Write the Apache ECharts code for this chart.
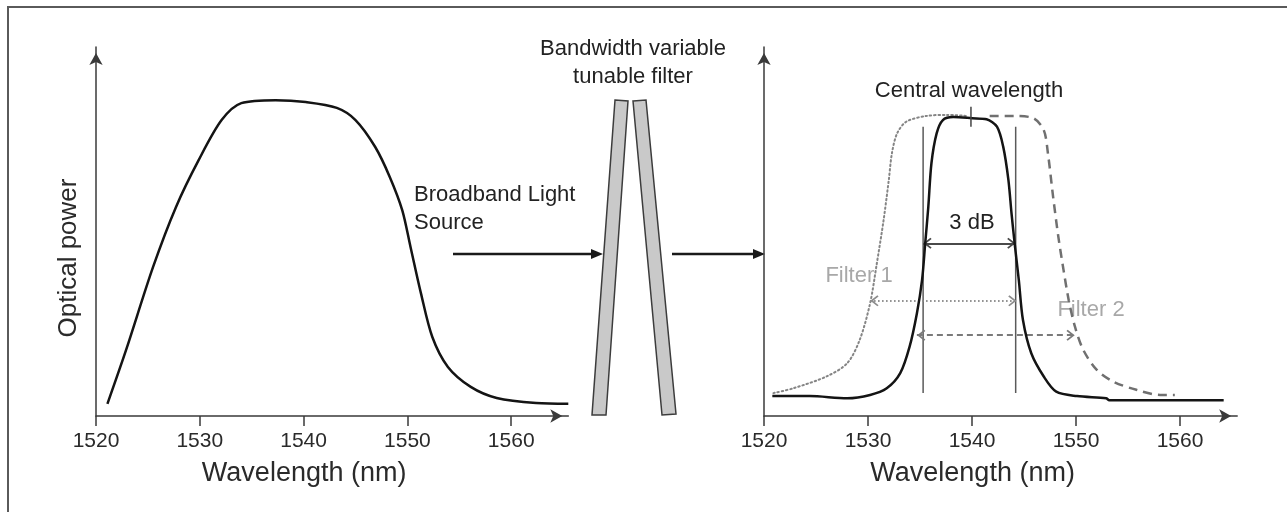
<!DOCTYPE html>
<html><head><meta charset="utf-8">
<script src="https://cdn.jsdelivr.net/npm/echarts@6/dist/echarts.min.js"></script>
<style>html,body{margin:0;padding:0;background:#fff}#c{width:1287px;height:512px}</style>
</head><body><div id="c"></div><script>
// ---------- data ----------
const xTicks = [1520, 1530, 1540, 1550, 1560];
const xTickLabels = ['1520', '1530', '1540', '1550', '1560'];

// Broadband light source spectrum (left panel)
const sourceWl    = [1521.1, 1522.9, 1525.5, 1527.7, 1529.9, 1532.1, 1534.0, 1537.3, 1540.2, 1543.2, 1545.0, 1546.9, 1548.3, 1549.5, 1550.3, 1551.3, 1552.4, 1553.9, 1556.1, 1558.6, 1562.4, 1565.5];
const sourcePower = [3.3, 17.9, 40.4, 56.6, 69.4, 80.2, 84.8, 85.6, 85.1, 83.5, 80.2, 72.9, 64.8, 55.8, 45.8, 33.3, 21.4, 13.3, 7.9, 4.9, 3.5, 3.3];

// Filtered output (right panel, solid)
const outWl    = [1520.8, 1524.4, 1528.0, 1530.2, 1531.8, 1533.1, 1534.0, 1534.7, 1535.2, 1535.5, 1535.8, 1536.1, 1536.6, 1537.2, 1538.2, 1540.0, 1541.4, 1542.4, 1543.0, 1543.5, 1543.8, 1544.1, 1544.5, 1544.9, 1545.7, 1546.9, 1548.1, 1550.1, 1552.9, 1553.2, 1564.2];
const outPower = [5.4, 5.4, 4.8, 5.7, 7.5, 11.6, 18.8, 27.8, 36.9, 46.8, 56.7, 68.5, 76.6, 80.2, 81.0, 80.7, 80.4, 78.4, 73.0, 64.0, 54.9, 46.8, 36.9, 26.0, 17.0, 10.7, 6.6, 5.4, 4.8, 4.3, 4.3];

// Filter 1 (dotted) and Filter 2 (dashed)
const filter1Wl    = [1520.9, 1522.8, 1526.0, 1528.0, 1529.2, 1530.2, 1530.8, 1531.5, 1532.0, 1532.3, 1532.8, 1533.7, 1535.6, 1537.6, 1539.5];
const filter1Power = [6.2, 7.5, 10.7, 14.3, 20.6, 30.5, 40.5, 53.1, 64.0, 71.2, 76.6, 79.8, 81.3, 81.6, 81.3];
const filter2Wl    = [1541.7, 1544.0, 1545.9, 1546.9, 1547.3, 1547.8, 1548.3, 1548.8, 1549.3, 1549.9, 1550.7, 1552.0, 1553.6, 1555.8, 1558.1, 1559.5];
const filter2Power = [81.3, 81.3, 80.7, 77.5, 71.2, 59.4, 48.6, 39.6, 31.4, 24.2, 17.9, 12.5, 9.3, 7.1, 5.7, 5.7];

// annotation values (data space)
const bandEdges   = [1535.3, 1544.2];   // 3 dB edges
const bandLevels  = [78.4, 6.2];        // top / bottom of edge markers
const centralWl   = 1539.9;
const centralTick = [83.8, 78.4];
const threeDbLevel = 46.8;
const filter1Span = [1530.2, 1544.3];
const filter1Level = 31.2;
const filter2Span = [1534.7, 1549.9];
const filter2Level = 21.9;

// ---------- chart ----------
const FONT = '"Liberation Sans", Arial, sans-serif';
const zip = (a, b) => a.map((v, i) => [v, b[i]]);
const CHEV = 'path://M5,0L5.01,0L5,0.01Z M5,8L10,14.5L8.9,15.6L5,10.6L1.1,15.6L0,14.5Z';
const AX = '#3a3a3a';

function xAx(gridIndex) {
  return {
    type: 'value', gridIndex, min: 1520, max: 1565.5, interval: 10,
    name: 'Wavelength (nm)', nameLocation: 'middle', nameGap: 44,
    nameTextStyle: { fontSize: 27, color: '#2a2a2a', fontFamily: FONT, padding: [0, 56, 0, 0] },
    axisLine: { show: true, onZero: false, symbol: ['none', 'arrow'], symbolSize: [10, 12], symbolOffset: [0, -6],
      lineStyle: { color: AX, width: 1.5 } },
    axisTick: { show: true, length: 10, lineStyle: { color: AX, width: 1.5 }, customValues: xTicks },
    axisLabel: { fontSize: 21, color: '#2a2a2a', fontFamily: FONT, margin: 15, customValues: xTicks,
      formatter: v => { const i = xTicks.indexOf(v); return i >= 0 ? xTickLabels[i] : ''; } },
    splitLine: { show: false }
  };
}
function yAx(gridIndex, name) {
  return {
    type: 'value', gridIndex, min: 0, max: 100,
    name: name || '', nameLocation: 'middle', nameGap: 14,
    nameTextStyle: { fontSize: 26, color: '#2a2a2a', fontFamily: FONT, padding: [0, 53, 0, 0] },
    axisLine: { show: true, onZero: false, symbol: ['none', 'arrow'], symbolSize: [10, 12], symbolOffset: [0, -6],
      lineStyle: { color: AX, width: 1.5 } },
    axisTick: { show: false }, axisLabel: { show: false }, splitLine: { show: false }
  };
}
function seg(name, pts, style, z) {
  return { type: 'line', name, xAxisIndex: 1, yAxisIndex: 1, data: pts, showSymbol: false, silent: true,
    lineStyle: style, z: z || 3 };
}

const option = {
  animation: false,
  backgroundColor: '#fff',
  grid: [
    { left: 96, top: 47, width: 472.3, height: 369 },
    { left: 764, top: 47, width: 473.2, height: 369 }
  ],
  xAxis: [xAx(0), xAx(1)],
  yAxis: [yAx(0, 'Optical power'), yAx(1)],
  series: [
    { type: 'line', name: 'Broadband source', xAxisIndex: 0, yAxisIndex: 0, data: zip(sourceWl, sourcePower),
      showSymbol: false, smooth: 0.3, lineStyle: { color: '#141414', width: 2.5 } },
    { type: 'line', name: 'Filter 1', xAxisIndex: 1, yAxisIndex: 1, data: zip(filter1Wl, filter1Power),
      showSymbol: false, smooth: 0.3,
      lineStyle: { color: '#858585', width: 2, type: [1.5, 2.8], cap: 'round' } },
    { type: 'line', name: 'Filter 2', xAxisIndex: 1, yAxisIndex: 1, data: zip(filter2Wl, filter2Power),
      showSymbol: false, smooth: 0.3,
      lineStyle: { color: '#707070', width: 2.5, type: [9, 6] } },
    seg('edge1', [[bandEdges[0], bandLevels[0]], [bandEdges[0], bandLevels[1]]], { color: '#5a5a5a', width: 1.5 }),
    seg('edge2', [[bandEdges[1], bandLevels[0]], [bandEdges[1], bandLevels[1]]], { color: '#5a5a5a', width: 1.5 }),
    seg('central', [[centralWl, centralTick[0]], [centralWl, centralTick[1]]], { color: '#444', width: 1.5 }, 6),
    { type: 'line', name: 'Output', xAxisIndex: 1, yAxisIndex: 1, data: zip(outWl, outPower),
      showSymbol: false, smooth: 0.3, z: 5,
      lineStyle: { color: '#141414', width: 2.5 },
      markLine: {
        silent: true, animation: false, symbol: [CHEV, CHEV], symbolSize: [11, 17],
        label: { show: false }, emphasis: { disabled: true },
        data: [
          [{ coord: [bandEdges[0], threeDbLevel], lineStyle: { color: '#4a4a4a', width: 2, type: 'solid' } },
           { coord: [bandEdges[1], threeDbLevel] }],
          [{ coord: [filter1Span[0], filter1Level], lineStyle: { color: '#8c8c8c', width: 2, type: [1.5, 2.5] } },
           { coord: [filter1Span[1], filter1Level] }],
          [{ coord: [filter2Span[0], filter2Level], lineStyle: { color: '#7a7a7a', width: 2, type: [6, 4] } },
           { coord: [filter2Span[1], filter2Level] }]
        ]
      } }
  ],
  graphic: [
    { type: 'polyline', silent: true, shape: { points: [[8, 512], [8, 7], [1287, 7]] },
      style: { stroke: '#5a5a5a', lineWidth: 2, fill: null } },
    { type: 'polygon', silent: true, shape: { points: [[615, 100], [628, 101], [606, 415], [592, 415]] },
      style: { fill: '#c9c9c9', stroke: '#3c3c3c', lineWidth: 1.5 } },
    { type: 'polygon', silent: true, shape: { points: [[633, 101], [646, 100], [676, 414], [662, 415]] },
      style: { fill: '#c9c9c9', stroke: '#3c3c3c', lineWidth: 1.5 } },
    { type: 'line', silent: true, shape: { x1: 453, y1: 254, x2: 594, y2: 254 }, style: { stroke: '#1a1a1a', lineWidth: 2.5 } },
    { type: 'polygon', silent: true, shape: { points: [[591, 249], [603, 254], [591, 259]] }, style: { fill: '#1a1a1a' } },
    { type: 'line', silent: true, shape: { x1: 672, y1: 254, x2: 756, y2: 254 }, style: { stroke: '#1a1a1a', lineWidth: 2.5 } },
    { type: 'polygon', silent: true, shape: { points: [[753, 249], [765, 254], [753, 259]] }, style: { fill: '#1a1a1a' } },
    { type: 'text', silent: true, x: 633, y: 49, style: { text: 'Bandwidth variable', fill: '#222', font: '22px ' + FONT, align: 'center', verticalAlign: 'middle' } },
    { type: 'text', silent: true, x: 633, y: 77, style: { text: 'tunable filter', fill: '#222', font: '22px ' + FONT, align: 'center', verticalAlign: 'middle' } },
    { type: 'text', silent: true, x: 414, y: 195, style: { text: 'Broadband Light', fill: '#222', font: '22px ' + FONT, align: 'left', verticalAlign: 'middle' } },
    { type: 'text', silent: true, x: 414, y: 223, style: { text: 'Source', fill: '#222', font: '22px ' + FONT, align: 'left', verticalAlign: 'middle' } },
    { type: 'text', silent: true, x: 969, y: 91, style: { text: 'Central wavelength', fill: '#222', font: '22px ' + FONT, align: 'center', verticalAlign: 'middle' } },
    { type: 'text', silent: true, x: 972, y: 223, style: { text: '3 dB', fill: '#222', font: '22px ' + FONT, align: 'center', verticalAlign: 'middle' } },
    { type: 'text', silent: true, x: 859, y: 276, style: { text: 'Filter 1', fill: '#a8a8a8', font: '22px ' + FONT, align: 'center', verticalAlign: 'middle' } },
    { type: 'text', silent: true, x: 1091, y: 310, style: { text: 'Filter 2', fill: '#a8a8a8', font: '22px ' + FONT, align: 'center', verticalAlign: 'middle' } }
  ]
};
const chart = echarts.init(document.getElementById('c'), null, { renderer: 'canvas' });
chart.setOption(option);
</script></body></html>
